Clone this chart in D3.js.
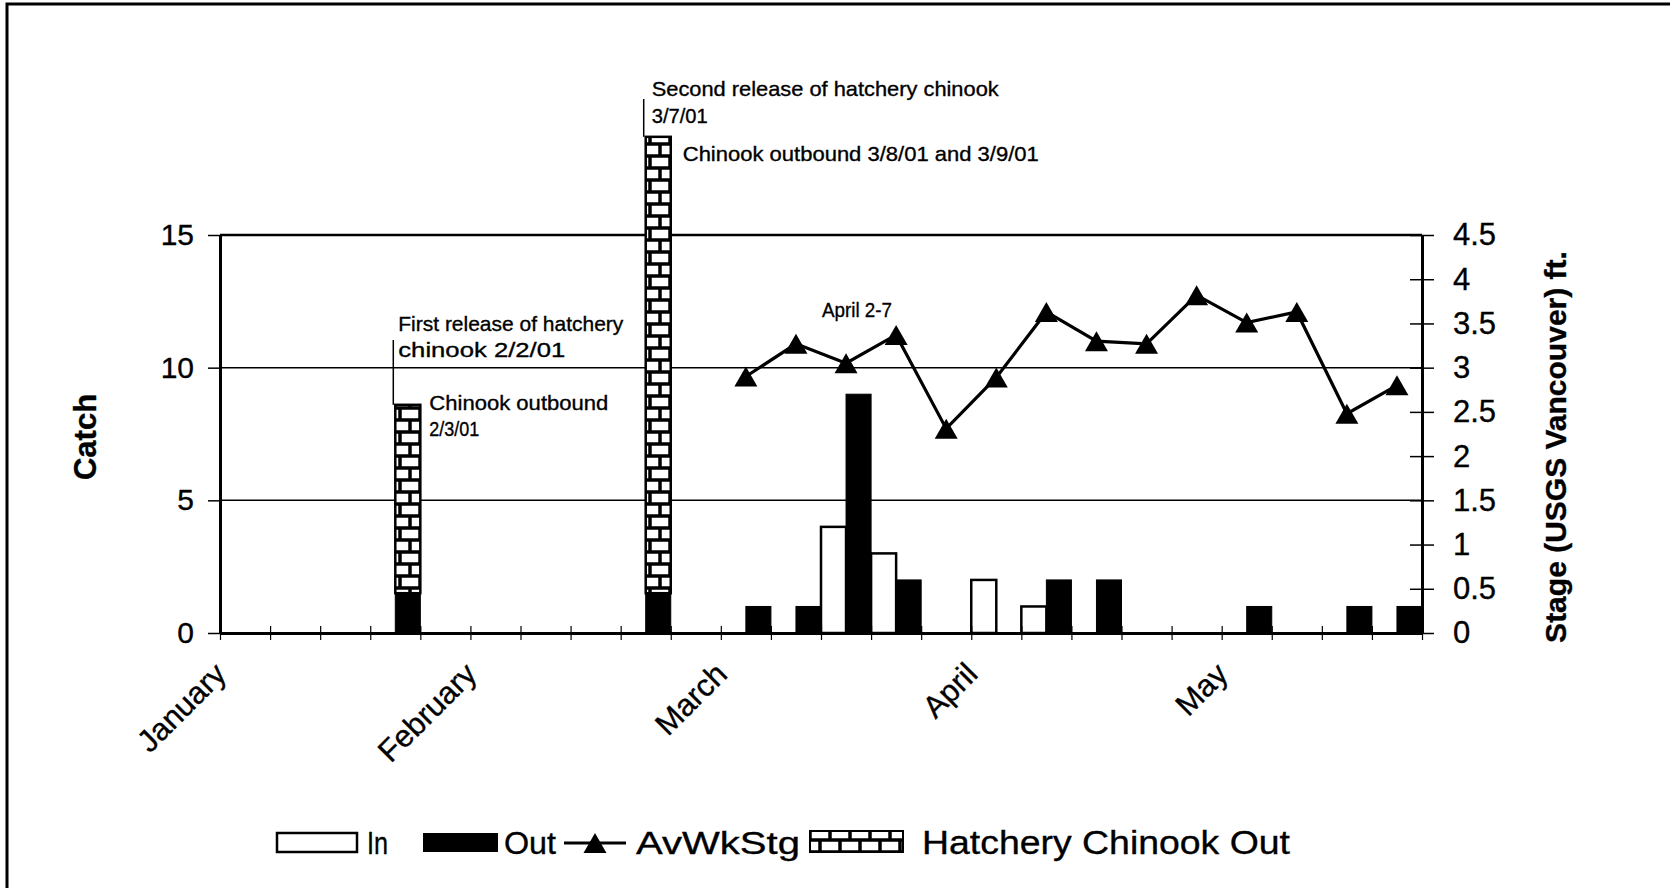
<!DOCTYPE html>
<html>
<head>
<meta charset="utf-8">
<script src="https://cdn.jsdelivr.net/npm/d3@7"></script>
<style>
  html, body { margin: 0; padding: 0; background: #fff; }
  svg { display: block; font-family: "Liberation Sans", Arial, sans-serif; }
  text { stroke: #000; stroke-width: 0.35px; }
</style>
</head>
<body>
<svg id="chart" width="1670" height="888"></svg>
<script>
// Weekly trap catch, 24 weekly bins from January into June
const weeks = d3.range(24);
const monthNames = ["January", "February", "March", "April", "May"];
const monthWeek = [0, 5, 10, 15, 20];

const catchIn     = [0, 0, 0, 0,   0, 0, 0, 0, 0,    0, 0, 0, 4, 3, 0, 2, 1, 0, 0, 0, 0, 0, 0, 0];
const catchOut    = [0, 0, 0, 1.5, 0, 0, 0, 0, 1.5,  0, 1, 1, 9, 2, 0, 0, 2, 2, 0, 0, 1, 0, 1, 1];
const hatcheryOut = [0, 0, 0, 7.1, 0, 0, 0, 0, 17.2, 0, 0, 0, 0, 0, 0, 0, 0, 0, 0, 0, 0, 0, 0, 0];
// Average weekly stage, ft (USGS Vancouver gauge)
const avWkStg = [null, null, null, null, null, null, null, null, null, null,
                 2.9, 3.27, 3.05, 3.37, 2.31, 2.89, 3.63, 3.3, 3.27, 3.82, 3.51, 3.63, 2.48, 2.8];

const catchTicks = [0, 5, 10, 15];
const stageTicks = [0, 0.5, 1, 1.5, 2, 2.5, 3, 3.5, 4, 4.5];

const svg = d3.select("#chart");
const FONT = '"Liberation Sans", Arial, sans-serif';

// plot frame
const P = { left: 220, right: 1422, top: 235, bottom: 633 };

const x = d3.scaleBand().domain(weeks).range([P.left, P.right]).padding(0);
const bw = x.bandwidth();
const xEdge = d3.scaleLinear().domain([0, weeks.length]).range([P.left, P.right]);
const y = d3.scaleLinear().domain([0, 15]).range([P.bottom, P.top]);
const y2 = d3.scaleLinear().domain([0, 4.5]).range([P.bottom, P.top]);

// brick fill for hatchery fish
const defs = svg.append("defs");
const pat = defs.append("pattern")
  .attr("id", "brick").attr("patternUnits", "userSpaceOnUse")
  .attr("width", 20).attr("height", 24);
pat.append("rect").attr("width", 20).attr("height", 24).attr("fill", "#000");
[[1.75, 1.75], [-8.25, 13.75], [11.75, 13.75]].forEach(([bx, by]) => {
  pat.append("rect").attr("x", bx).attr("y", by).attr("width", 16.5).attr("height", 8.5).attr("fill", "#fff");
});

// page border
svg.append("path").attr("d", "M7,888 V4 H1670")
  .attr("fill", "none").attr("stroke", "#000").attr("stroke-width", 3);

// horizontal gridlines
svg.append("g").selectAll("line").data(catchTicks.filter(d => d > 0)).join("line")
  .attr("x1", P.left).attr("x2", P.right)
  .attr("y1", d => y(d)).attr("y2", d => y(d))
  .attr("stroke", "#000").attr("stroke-width", d => d === 15 ? 2.5 : 1.5);

// bars: In on the left half of each week, Out (with hatchery fish stacked) on the right half
const rows = weeks.map(i => ({ i, inn: catchIn[i], out: catchOut[i], hat: hatcheryOut[i] }));
const bars = svg.append("g");
bars.selectAll("rect.in").data(rows.filter(d => d.inn > 0)).join("rect")
  .attr("x", d => x(d.i)).attr("width", bw / 2)
  .attr("y", d => y(d.inn)).attr("height", d => y(0) - y(d.inn))
  .attr("fill", "#fff").attr("stroke", "#000").attr("stroke-width", 2.5);
bars.selectAll("rect.out").data(rows.filter(d => d.out > 0)).join("rect")
  .attr("x", d => x(d.i) + bw / 2).attr("width", bw / 2)
  .attr("y", d => y(d.out)).attr("height", d => y(0) - y(d.out))
  .attr("fill", "#000").attr("stroke", "#000").attr("stroke-width", 1);
bars.selectAll("rect.hatch").data(rows.filter(d => d.hat > 0)).join("rect")
  .attr("x", d => x(d.i) + bw / 2).attr("width", bw / 2)
  .attr("y", d => y(d.out + d.hat)).attr("height", d => y(d.out) - y(d.out + d.hat))
  .attr("fill", "url(#brick)").attr("stroke", "#000").attr("stroke-width", 2.5);

// bottom axis with crossing ticks at week boundaries
const gx = svg.append("g").attr("transform", `translate(0,${P.bottom})`)
  .call(d3.axisBottom(xEdge).tickValues(d3.range(0, weeks.length + 1)).tickSize(7).tickSizeOuter(0).tickFormat(""));
gx.select(".domain").attr("stroke-width", 3);
gx.selectAll(".tick line").attr("y1", -7).attr("stroke-width", 1.2);

// month labels
svg.append("g").selectAll("text").data(monthNames).join("text")
  .attr("transform", (d, i) => `translate(${xEdge(monthWeek[i]) + 8},676) rotate(-45)`)
  .attr("text-anchor", "end")
  .attr("font-size", 31)
  .text(d => d);

// left axis
const gy = svg.append("g").attr("transform", `translate(${P.left},0)`)
  .call(d3.axisLeft(y).tickValues(catchTicks).tickSize(12).tickPadding(14).tickSizeOuter(0));
gy.select(".domain").attr("stroke-width", 3);
gy.selectAll(".tick line").attr("stroke-width", 1.5);
gy.selectAll("text").attr("font-size", 30).attr("font-family", FONT).attr("fill", "#000");

// right axis
const gy2 = svg.append("g").attr("transform", `translate(${P.right},0)`)
  .call(d3.axisRight(y2).tickValues(stageTicks).tickSize(12).tickPadding(19).tickSizeOuter(0)
    .tickFormat(d3.format("~g")));
gy2.select(".domain").attr("stroke-width", 3);
gy2.selectAll(".tick line").attr("x1", -12).attr("stroke-width", 1.5);
gy2.selectAll("text").attr("font-size", 31).attr("font-family", FONT).attr("fill", "#000");

// axis titles
svg.append("text").attr("transform", "translate(85,437) rotate(-90)")
  .attr("text-anchor", "middle").attr("dominant-baseline", "central")
  .attr("font-size", 31).attr("font-weight", "bold").text("Catch");
svg.append("text").attr("transform", "translate(1555,447) rotate(-90)")
  .attr("text-anchor", "middle").attr("dominant-baseline", "central")
  .attr("font-size", 30).attr("font-weight", "bold").text("Stage (USGS Vancouver) ft.");

// stage line with triangle markers
const tri = (w, h) => `M0,${-h / 2}L${w / 2},${h / 2}L${-w / 2},${h / 2}Z`;
const pts = avWkStg.map((v, i) => ({ i, v })).filter(d => d.v != null);
svg.append("path").datum(pts)
  .attr("fill", "none").attr("stroke", "#000").attr("stroke-width", 3.2).attr("stroke-linejoin", "miter")
  .attr("d", d3.line().x(d => x(d.i) + bw / 2).y(d => y2(d.v)));
svg.append("g").selectAll("path").data(pts).join("path")
  .attr("transform", d => `translate(${x(d.i) + bw / 2},${y2(d.v)})`)
  .attr("d", tri(23, 20)).attr("fill", "#000");

// annotations
const note = (tx, ty, str, len) => svg.append("text")
  .attr("x", tx).attr("y", ty).attr("font-size", 21)
  .attr("textLength", len).attr("lengthAdjust", "spacingAndGlyphs").text(str);
const leader = (lx, ly1, ly2) => svg.append("line")
  .attr("x1", lx).attr("x2", lx).attr("y1", ly1).attr("y2", ly2)
  .attr("stroke", "#000").attr("stroke-width", 1.5);

const b1 = 3, b2 = 8;
const b1L = x(b1) + bw / 2, b1R = x(b1) + bw, b2L = x(b2) + bw / 2, b2R = x(b2) + bw;
leader(b1L - 2, 340, y(catchOut[b1] + hatcheryOut[b1]));
note(b1L + 3, 331, "First release of hatchery", 225);
note(b1L + 3, 357, "chinook 2/2/01", 167);
note(b1R + 9, 410, "Chinook outbound", 179);
note(b1R + 9, 436, "2/3/01", 50);

leader(b2L - 2, 99, y(catchOut[b2] + hatcheryOut[b2]));
note(b2L + 6, 96, "Second release of hatchery chinook", 347);
note(b2L + 6, 123, "3/7/01", 56);
note(b2R + 12, 161, "Chinook outbound 3/8/01 and 3/9/01", 356);

note(x(12) + 1, 317, "April 2-7", 70);

// legend
const lg = svg.append("g");
lg.append("rect").attr("x", 277).attr("y", 833).attr("width", 80).attr("height", 19)
  .attr("fill", "#fff").attr("stroke", "#000").attr("stroke-width", 2.5);
lg.append("text").attr("x", 367).attr("y", 854).attr("font-size", 31)
  .attr("textLength", 21).attr("lengthAdjust", "spacingAndGlyphs").text("In");
lg.append("rect").attr("x", 423).attr("y", 833).attr("width", 75).attr("height", 19).attr("fill", "#000");
lg.append("text").attr("x", 504).attr("y", 854).attr("font-size", 31)
  .attr("textLength", 52).attr("lengthAdjust", "spacingAndGlyphs").text("Out");
lg.append("line").attr("x1", 564).attr("x2", 626).attr("y1", 843).attr("y2", 843)
  .attr("stroke", "#000").attr("stroke-width", 3);
lg.append("path").attr("transform", "translate(595,843)").attr("d", tri(23, 20)).attr("fill", "#000");
lg.append("text").attr("x", 636).attr("y", 854).attr("font-size", 31)
  .attr("textLength", 164).attr("lengthAdjust", "spacingAndGlyphs").text("AvWkStg");
lg.append("rect").attr("x", 810).attr("y", 831).attr("width", 93).attr("height", 21)
  .attr("fill", "url(#brick)").attr("stroke", "#000").attr("stroke-width", 2);
lg.append("text").attr("x", 922).attr("y", 854).attr("font-size", 34)
  .attr("textLength", 368).attr("lengthAdjust", "spacingAndGlyphs").text("Hatchery Chinook Out");
</script>
</body>
</html>
